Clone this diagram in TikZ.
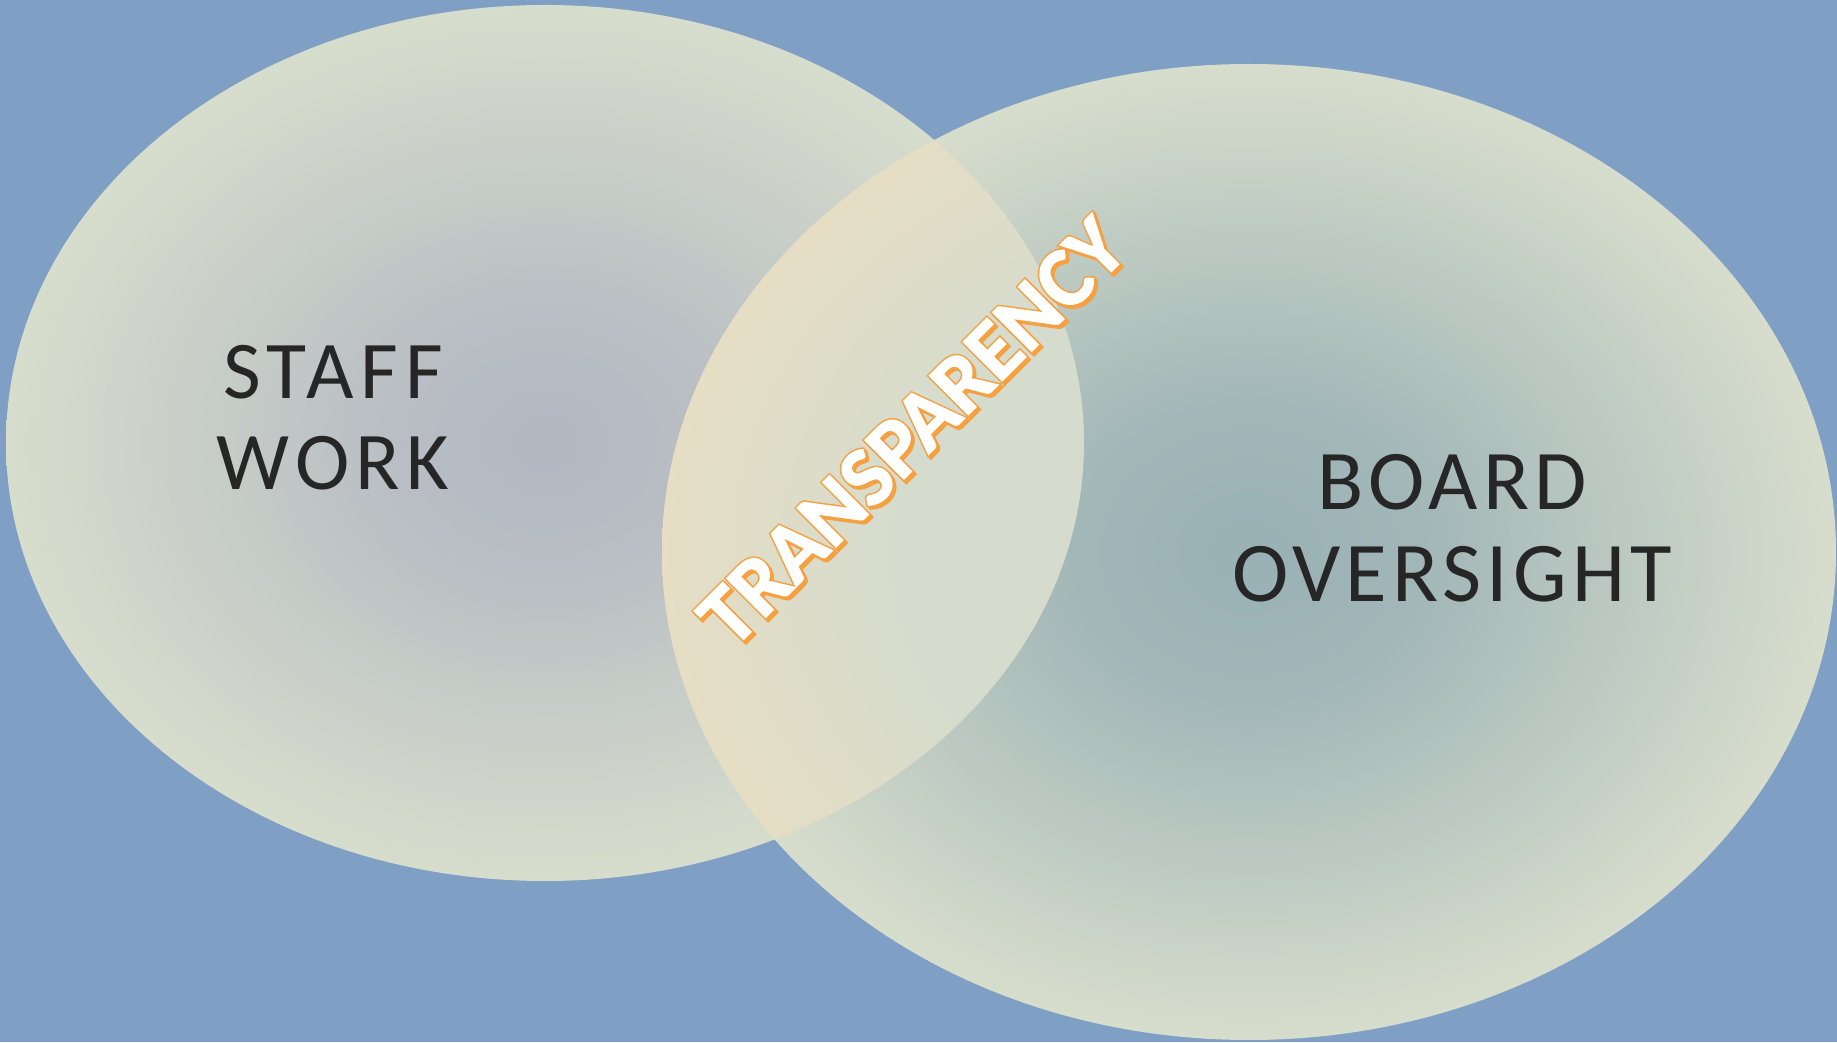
\documentclass[tikz,border=0pt]{standalone}
\usepackage{fontspec}
\setmainfont{Carlito}
\newfontfamily\staffletters{Carlito}[LetterSpace=8]
\newfontfamily\boardletters{Carlito}[LetterSpace=6]
\newfontfamily\glowfont{Carlito Bold}[FakeBold=1.5]
\newfontfamily\glowedgefont{Carlito Bold}[FakeBold=5]

\definecolor{bgblue}{RGB}{128,159,196}
\definecolor{edgelight}{RGB}{215,221,204}
\definecolor{staffcore}{RGB}{178,184,194}
\definecolor{staffmid}{RGB}{184,190,195}
\definecolor{boardcore}{RGB}{153,177,181}
\definecolor{boardmid}{RGB}{161,182,183}
\definecolor{lenscore}{RGB}{214,220,205}
\definecolor{lensedge}{RGB}{229,221,196}
\definecolor{textdark}{RGB}{38,38,38}
\definecolor{glow}{RGB}{245,160,65}

% Radial fills of the ellipses
\pgfdeclareradialshading{staff fill}{\pgfpointorigin}{%
  color(0bp)=(staffcore); color(7bp)=(staffmid); color(25bp)=(edgelight); color(50bp)=(edgelight)}
\pgfdeclareradialshading{board fill}{\pgfpointorigin}{%
  color(0bp)=(boardcore); color(7bp)=(boardmid); color(25bp)=(edgelight); color(50bp)=(edgelight)}
\pgfdeclareradialshading{lens fill}{\pgfpointorigin}{%
  color(0bp)=(lenscore); color(15bp)=(lenscore); color(25bp)=(lensedge); color(50bp)=(lensedge)}

\tikzset{
  venn label/.style={text=textdark, align=center, inner sep=0pt},
  glow label/.style={rotate=45, inner sep=0pt}
}

\begin{document}
\begin{tikzpicture}[x=1pt,y=1pt]

  % Canvas
  \fill[bgblue] (0,0) rectangle (1837,1042);
  \useasboundingbox (0,0) rectangle (1837,1042);

  % Staff ellipse
  \shade[shading=staff fill] (545,599) ellipse [x radius=539, y radius=438];
  % Board ellipse
  \shade[shading=board fill] (1249,490) ellipse [x radius=587, y radius=488];

  % Overlap
  \begin{scope}
    \clip (545,599) ellipse [x radius=539, y radius=438];
    \shade[shading=lens fill] (1249,490) ellipse [x radius=587, y radius=488];
  \end{scope}

  % Labels
  \node[venn label, font=\staffletters\fontsize{82}{91}\selectfont] (staff) at (333,624) {STAFF\\WORK};
  \node[venn label, font=\boardletters\fontsize{85}{92}\selectfont] (board) at (1452,514) {BOARD\\OVERSIGHT};

  % Transparency: shadow, edge, face
  \node[glow label, text=glow, font=\glowedgefont\fontsize{85}{90}\selectfont] (shadow) at (914.5,607.5) {TRANSPARENCY};
  \node[glow label, text=glow, font=\glowedgefont\fontsize{85}{90}\selectfont] (edge) at (912,610) {TRANSPARENCY};
  \node[glow label, text=white, font=\glowfont\fontsize{85}{90}\selectfont] (transp) at (912,610) {TRANSPARENCY};

\end{tikzpicture}
\end{document}
